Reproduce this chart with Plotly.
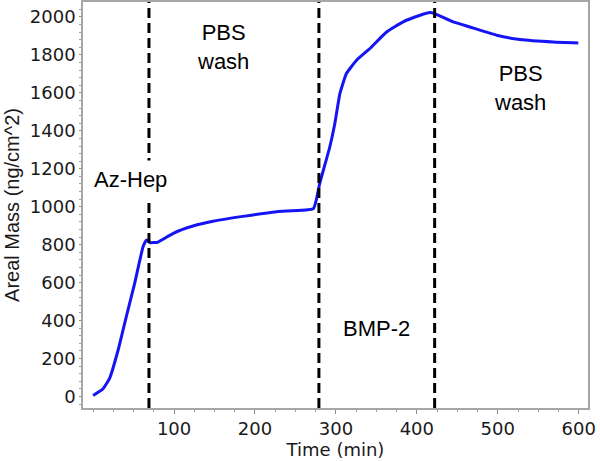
import plotly.graph_objects as go

# Areal mass trace (time in min, mass in ng/cm^2)
time_min = [0, 12, 20.5, 31, 41, 51.4, 61.7, 66, 70, 80, 99, 123.5, 148, 185, 227, 272,
            276, 280, 286, 292.5, 298.7, 305, 313, 325.5, 342, 362.6, 383, 404, 416, 422,
            445, 465.6, 498.6, 527.5, 568.6, 599.5]
areal_mass = [5, 39, 97, 246, 421, 597, 789, 825, 811, 813, 860, 898, 923, 949, 974, 989,
              1040, 1123, 1215, 1316, 1439, 1597, 1702, 1772, 1834, 1921, 1974, 2009, 2023, 2018,
              1974, 1947, 1904, 1881, 1868, 1863]

# Step boundaries (vertical dashed lines)
event_times = [69, 279, 422]

# Phase labels
label_text = ["Az-Hep", "PBS<br>wash", "BMP-2", "PBS<br>wash"]
label_x = [46.3, 160, 350, 527.6]
label_y = [1146, 1840, 360, 1627]

x_ticks = [100, 200, 300, 400, 500, 600]
y_ticks = [0, 200, 400, 600, 800, 1000, 1200, 1400, 1600, 1800, 2000]

fig = go.Figure()
fig.add_trace(go.Scatter(
    x=time_min, y=areal_mass, mode="lines",
    line=dict(color="#1414f5", width=3, shape="spline", smoothing=0.4),
    showlegend=False, hoverinfo="skip"))

for t in event_times:
    fig.add_shape(type="line", xref="x", yref="paper", x0=t, x1=t, y0=0, y1=1,
                  line=dict(color="black", width=3, dash="10px,5px"))

for i, (txt, lx, ly) in enumerate(zip(label_text, label_x, label_y)):
    fig.add_annotation(x=lx, y=ly, text=txt, showarrow=False,
                       font=dict(family="Liberation Sans, Arial", size=22, color="black"),
                       bgcolor="white" if i == 0 else "rgba(0,0,0,0)",
                       borderpad=6 if i == 0 else 0)

axis_common = dict(showline=True, mirror=True, linecolor="#a6a6a6", linewidth=1.5,
                   showgrid=False, zeroline=False,
                   tickfont=dict(family="DejaVu Sans", size=18, color="#1a1a1a"),
                   ticks="outside", tickcolor="#8c8c8c")

fig.update_xaxes(range=[-12.5, 611.5], tickvals=x_ticks, ticklen=4,
                 minor=dict(dtick=25, tick0=0, ticks="outside", ticklen=2, tickcolor="#a0a0a0"),
                 title=dict(text="Time (min)", font=dict(family="DejaVu Sans", size=18, color="#1a1a1a"),
                            standoff=2),
                 **axis_common)
fig.update_yaxes(range=[-61, 2079], tickvals=y_ticks, ticklen=2,
                 minor=dict(dtick=40, tick0=0, ticks="outside", ticklen=2, tickcolor="#a0a0a0"),
                 title=dict(text="Areal Mass (ng/cm^2)",
                            font=dict(family="Liberation Sans, Arial", size=20, color="#1a1a1a"),
                            standoff=5),
                 **axis_common)

fig.update_layout(width=600, height=461, margin=dict(l=83, r=12, t=2, b=53, autoexpand=False),
                  plot_bgcolor="white", paper_bgcolor="white")

fig.write_html("out.html", config={"displayModeBar": False},
               post_script="document.body.style.margin='0';")
